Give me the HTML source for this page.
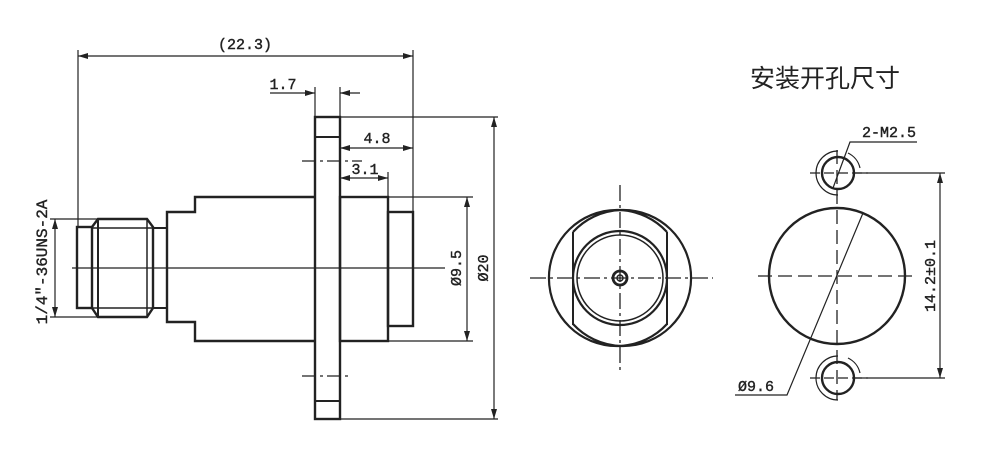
<!DOCTYPE html>
<html><head><meta charset="utf-8"><style>
html,body{margin:0;padding:0;background:#fff;}
svg{display:block;}
text{font-family:"Liberation Mono",monospace;fill:#222;}
</style></head><body>
<svg width="1000" height="449" viewBox="0 0 1000 449" xmlns="http://www.w3.org/2000/svg">
<defs>
<marker id="a" viewBox="0 0 10 6" refX="10" refY="3" markerWidth="10" markerHeight="6" orient="auto-start-reverse" markerUnits="userSpaceOnUse"><path d="M0,0 L10,3 L0,6 z" fill="#222"/></marker>
</defs>
<g stroke="#222" fill="none">
<line x1="78" y1="50" x2="78" y2="227" stroke-width="1.2"/>
<line x1="413" y1="50" x2="413" y2="212" stroke-width="1.2"/>
<line x1="78" y1="56" x2="413" y2="56" stroke-width="1.2" marker-start="url(#a)" marker-end="url(#a)"/>
<line x1="315" y1="87" x2="315" y2="117" stroke-width="1.2"/>
<line x1="340" y1="87" x2="340" y2="117" stroke-width="1.2"/>
<line x1="270" y1="93" x2="315" y2="93" stroke-width="1.2" marker-end="url(#a)"/>
<line x1="360" y1="93" x2="340" y2="93" stroke-width="1.2" marker-end="url(#a)"/>
<line x1="340" y1="148" x2="413" y2="148" stroke-width="1.2" marker-start="url(#a)" marker-end="url(#a)"/>
<line x1="340" y1="178" x2="388" y2="178" stroke-width="1.2" marker-start="url(#a)" marker-end="url(#a)"/>
<line x1="388" y1="172" x2="388" y2="197" stroke-width="1.2"/>
<rect x="315" y="117" width="25" height="302" stroke-width="2.4"/>
<line x1="315" y1="137" x2="340" y2="137" stroke-width="2"/>
<line x1="315" y1="401" x2="340" y2="401" stroke-width="2"/>
<line x1="302" y1="161" x2="362" y2="161" stroke-width="1.2" stroke-dasharray="14,4,3,4"/>
<line x1="302" y1="376" x2="352" y2="376" stroke-width="1.2" stroke-dasharray="14,4,3,4"/>
<line x1="340" y1="117" x2="498" y2="117" stroke-width="1.2"/>
<line x1="340" y1="419" x2="498" y2="419" stroke-width="1.2"/>
<line x1="494" y1="117" x2="494" y2="419" stroke-width="1.2" marker-start="url(#a)" marker-end="url(#a)"/>
<path d="M315,197 H195 V212 H167 V322 H195 V341 H315" stroke-width="2.4"/>
<rect x="340" y="197" width="48" height="144" stroke-width="2.4"/>
<rect x="388" y="212" width="25" height="114" stroke-width="2.4"/>
<line x1="388" y1="197" x2="473" y2="197" stroke-width="1.2"/>
<line x1="388" y1="341" x2="473" y2="341" stroke-width="1.2"/>
<line x1="467" y1="197" x2="467" y2="341" stroke-width="1.2" marker-start="url(#a)" marker-end="url(#a)"/>
<rect x="77" y="227" width="15" height="81" stroke-width="2.4"/>
<path d="M92,227 L98,219 H147 L153,227 V308 L147,317 H98 L92,308" stroke-width="2.4"/>
<line x1="98" y1="219" x2="98" y2="317" stroke-width="2"/>
<line x1="147" y1="219" x2="147" y2="317" stroke-width="1.5"/>
<line x1="92" y1="228" x2="153" y2="228" stroke-width="1.5"/>
<line x1="92" y1="308" x2="153" y2="308" stroke-width="1.5"/>
<rect x="153" y="228" width="14" height="80" stroke-width="2"/>
<line x1="72" y1="268" x2="445" y2="268" stroke-width="1.2"/>
<line x1="50" y1="219" x2="98" y2="219" stroke-width="1.2"/>
<line x1="50" y1="317" x2="98" y2="317" stroke-width="1.2"/>
<line x1="55" y1="219" x2="55" y2="317" stroke-width="1.2" marker-start="url(#a)" marker-end="url(#a)"/>

<line x1="530" y1="278" x2="713" y2="278" stroke-width="1.3" stroke-dasharray="16,4,3,4"/>
<line x1="620" y1="185" x2="620" y2="370" stroke-width="1.3" stroke-dasharray="16,4,3,4"/>
<path d="M573,232 A68,68 0 1,1 573,324 M667,232 A68,68 0 1,0 667,324" stroke-width="2.2"/>
<line x1="573" y1="232" x2="573" y2="325" stroke-width="2"/>
<line x1="667" y1="232" x2="667" y2="325" stroke-width="2"/>
<circle cx="620" cy="278" r="47" stroke-width="2.2"/>
<circle cx="620" cy="278" r="43" stroke-width="1.5"/>
<circle cx="620" cy="278" r="7" stroke-width="2.8"/>
<circle cx="620" cy="278" r="3" stroke-width="1.5"/>

<circle cx="837" cy="276" r="68" stroke-width="2.4"/>
<line x1="758" y1="276" x2="915" y2="276" stroke-width="1.3" stroke-dasharray="14,6"/>
<line x1="837" y1="150" x2="837" y2="400" stroke-width="1.3" stroke-dasharray="14,6"/>
<circle cx="838" cy="173" r="16" stroke-width="2.4"/>
<path d="M838,151 A22,22 0 1,0 838,195" stroke-width="1.2"/>
<path d="M848,153 A22,22 0 0,1 860,168" stroke-width="1.2"/>
<circle cx="838" cy="378" r="16" stroke-width="2.4"/>
<path d="M838,356 A22,22 0 1,0 838,400" stroke-width="1.2"/>
<path d="M848,358 A22,22 0 0,1 860,373" stroke-width="1.2"/>
<line x1="810" y1="173" x2="868" y2="173" stroke-width="1.2" stroke-dasharray="10,4"/>
<line x1="810" y1="378" x2="868" y2="378" stroke-width="1.2" stroke-dasharray="10,4"/>
<line x1="855" y1="173" x2="945" y2="173" stroke-width="1.2"/>
<line x1="855" y1="378" x2="945" y2="378" stroke-width="1.2"/>
<line x1="940" y1="173" x2="940" y2="378" stroke-width="1.2" marker-start="url(#a)" marker-end="url(#a)"/>
<path d="M833,188 L850,142 H917" stroke-width="1.2"/>
<path d="M863,213 L787,395 H735" stroke-width="1.2"/>
</g>
<g font-size="15" stroke="#222" stroke-width="0.4">
<text x="245" y="49" text-anchor="middle">(22.3)</text>
<text x="283" y="89" text-anchor="middle">1.7</text>
<text x="377" y="143" text-anchor="middle">4.8</text>
<text x="365" y="174" text-anchor="middle">3.1</text>
<text transform="translate(461,268) rotate(-90)" text-anchor="middle">Ø9.5</text>
<text transform="translate(488,268) rotate(-90)" text-anchor="middle">Ø20</text>
<text transform="translate(47,262) rotate(-90)" text-anchor="middle" font-family="Liberation Serif,serif" font-size="16">1/4"-36UNS-2A</text>
<text transform="translate(935,276) rotate(-90)" text-anchor="middle">14.2±0.1</text>
<text x="862" y="137">2-M2.5</text>
<text x="738" y="391">Ø9.6</text>
</g>
<text x="750" y="87" font-size="25" style="font-family:'Noto Sans CJK SC',sans-serif">安装开孔尺寸</text>
</svg>
</body></html>
